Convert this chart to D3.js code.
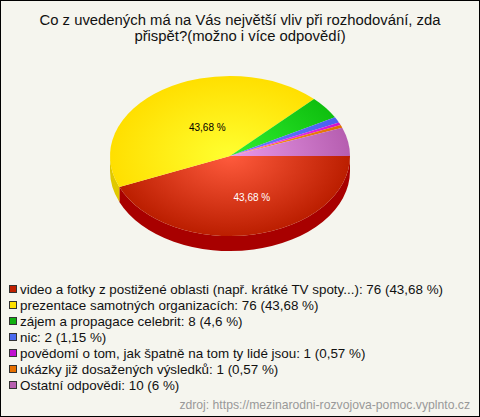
<!DOCTYPE html>
<html><head><meta charset="utf-8">
<script src="https://cdn.jsdelivr.net/npm/d3@7"></script>
<style>html,body{margin:0;padding:0;background:#f5f5ee}svg{display:block}text{font-family:"Liberation Sans",Arial,sans-serif}</style>
</head><body><svg id="c" width="480" height="417"></svg>
<script>
const titleLines = ["Co z uvedených má na Vás největší vliv při rozhodování, zda", "přispět?(možno i více odpovědí)"];
const categories = ["video a fotky z postižené oblasti (např. krátké TV spoty...)", "prezentace samotných organizacích", "zájem a propagace celebrit", "nic", "povědomí o tom, jak špatně na tom ty lidé jsou", "ukázky již dosažených výsledků", "Ostatní odpovědi"];
const values = [76, 76, 8, 2, 1, 1, 10];
const percents = ["43,68 %", "43,68 %", "4,6 %", "1,15 %", "0,57 %", "0,57 %", "6 %"];
const inner = ["#ff5b3d", "#ffff30", "#30f030", "#6a80ff", "#ff50ff", "#ff9a30", "#ea9aea"];
const outer = ["#bb1e00", "#ffdf00", "#0fbf0f", "#4a60f0", "#d010d0", "#e07000", "#b65eb0"];
const side = ["#a80000", "#e0c800", "#0a9a0a", "#3040c0", "#a000a0", "#b05000", "#904890"];
const swatch = ["#c02000", "#ffe000", "#10b010", "#4a6af0", "#c010d0", "#e87000", "#b860b0"];
const labelled = [0, 1];
const labelColor = ["#ffffff", "#000000"];
const labelNudge = [[10, 6], [11, 8]];

const W = 480, H = 417, cx = 230, cy = 156, rx = 120, ry = 80, depth = 15;
const svg = d3.select("#c");
svg.append("rect").attr("x", .5).attr("y", .5).attr("width", W - 1).attr("height", H - 1).attr("fill", "#f5f5ee").attr("stroke", "#000");

svg.append("g").selectAll("text").data(titleLines).join("text")
  .attr("x", 240).attr("y", (d, i) => 25 + i * 16).attr("text-anchor", "middle")
  .attr("font-size", 14.85).attr("fill", "#111").text(d => d);

const pie = d3.pie().sort(null).startAngle(Math.PI / 2).endAngle(Math.PI * 2.5);
const arcs = pie(values);
const arc = d3.arc().innerRadius(0).outerRadius(rx);
const ky = ry / rx;
const defs = svg.append("defs");
const grads = defs.selectAll("radialGradient").data(arcs).join("radialGradient")
  .attr("id", (d, i) => "g" + i).attr("gradientUnits", "userSpaceOnUse")
  .attr("cx", 0).attr("cy", 0).attr("r", rx);
grads.append("stop").attr("offset", 0).attr("stop-color", (d, i) => inner[i]);
grads.append("stop").attr("offset", 1).attr("stop-color", (d, i) => outer[i]);

// side wall: the front half of the ellipse only
const px = a => cx + rx * Math.sin(a), py = a => cy - ry * Math.cos(a);
const frontEnd = Math.PI * 1.5;
svg.append("g").selectAll("path").data(arcs.filter(d => d.startAngle < frontEnd)).join("path")
  .attr("fill", d => side[d.index])
  .attr("d", d => {
    const a0 = d.startAngle, a1 = Math.min(d.endAngle, frontEnd);
    return `M${px(a0)},${py(a0)}A${rx},${ry} 0 0 1 ${px(a1)},${py(a1)}L${px(a1)},${py(a1) + depth}A${rx},${ry} 0 0 0 ${px(a0)},${py(a0) + depth}Z`;
  });

svg.append("g").attr("transform", `translate(${cx},${cy}) scale(1,${ky})`)
  .selectAll("path").data(arcs).join("path")
  .attr("d", arc).attr("fill", (d, i) => `url(#g${i})`);

const labelArc = d3.arc().innerRadius(rx * .5).outerRadius(rx * .5);
svg.append("g").selectAll("text").data(labelled).join("text")
  .attr("x", (i) => cx + labelArc.centroid(arcs[i])[0] + labelNudge[i][0])
  .attr("y", (i) => cy + labelArc.centroid(arcs[i])[1] * ky + labelNudge[i][1])
  .attr("text-anchor", "middle").attr("font-size", 10)
  .attr("fill", (i) => labelColor[i]).text(i => percents[i]);

const y = d3.scalePoint().domain(d3.range(categories.length)).range([289, 385]);
const leg = svg.append("g").selectAll("g").data(categories).join("g")
  .attr("transform", (d, i) => `translate(0,${y(i)})`);
leg.append("rect").attr("x", 9.5).attr("y", -3.5).attr("width", 7).attr("height", 7)
  .attr("fill", (d, i) => swatch[i]).attr("stroke", "#333").attr("stroke-width", 1);
leg.append("text").attr("x", 20).attr("y", 5).attr("font-size", 13.4).attr("fill", "#111")
  .text((d, i) => `${d}: ${values[i]} (${percents[i]})`);

svg.append("text").attr("x", 470).attr("y", 409).attr("text-anchor", "end")
  .attr("font-size", 12.2).attr("fill", "#999").text("zdroj: https://mezinarodni-rozvojova-pomoc.vyplnto.cz");
</script></body></html>
